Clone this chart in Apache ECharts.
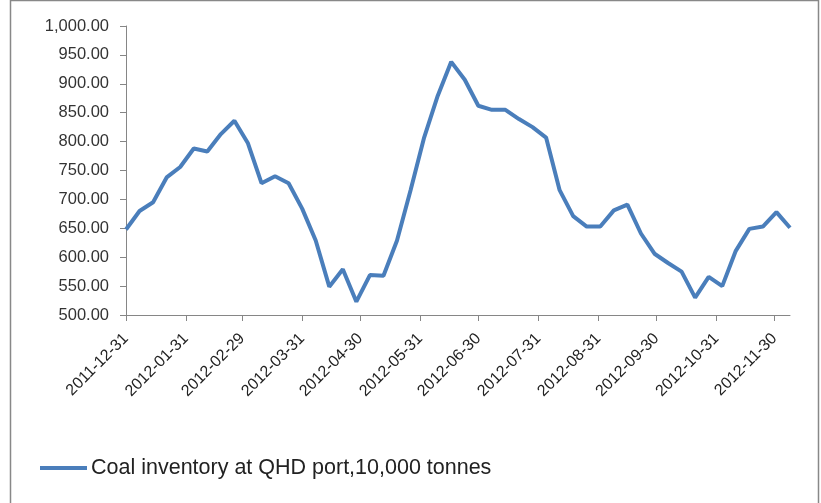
<!DOCTYPE html>
<html>
<head>
<meta charset="utf-8">
<script src="https://cdn.jsdelivr.net/npm/echarts@6/dist/echarts.min.js"></script>
<style>
html,body{margin:0;padding:0;background:#fff;}
#chart{width:821px;height:503px;}
</style>
</head>
<body>
<div id="chart"></div>
<script>
var dates = ['2011-12-31','2012-01-07','2012-01-14','2012-01-21','2012-01-28','2012-02-04','2012-02-11','2012-02-18','2012-02-25','2012-03-03',
'2012-03-10','2012-03-17','2012-03-24','2012-03-31','2012-04-07','2012-04-14','2012-04-21','2012-04-28','2012-05-05','2012-05-12',
'2012-05-19','2012-05-26','2012-06-02','2012-06-09','2012-06-16','2012-06-23','2012-06-30','2012-07-07','2012-07-14','2012-07-21',
'2012-07-28','2012-08-04','2012-08-11','2012-08-18','2012-08-25','2012-09-01','2012-09-08','2012-09-15','2012-09-22','2012-09-29',
'2012-10-06','2012-10-13','2012-10-20','2012-10-27','2012-11-03','2012-11-10','2012-11-17','2012-11-24','2012-12-01','2012-12-08'];
var inventory = [648,680,695,738,756,788,783,813,836,797,
728,740,728,684,629,549,579,523,569,568,
629,716,807,879,938,907,862,855,855,839,
825,807,716,671,653,653,681,691,641,606,
590,575,530,566,550,611,649,653,678,651];
var tickLabels = ['2011-12-31','2012-01-31','2012-02-29','2012-03-31','2012-04-30','2012-05-31','2012-06-30','2012-07-31','2012-08-31','2012-09-30','2012-10-31','2012-11-30'];
var seriesName = 'Coal inventory at QHD port,10,000 tonnes';

function ts(s){var p=s.split('-');return Date.UTC(+p[0],+p[1]-1,+p[2]);}
function pad(n){return (n<10?'0':'')+n;}
function fmt(v){var d=new Date(v);return d.getUTCFullYear()+'-'+pad(d.getUTCMonth()+1)+'-'+pad(d.getUTCDate());}

var tickValues = tickLabels.map(ts);
var chart = echarts.init(document.getElementById('chart'));
chart.setOption({
  animation:false,
  backgroundColor:'#fff',
  graphic:[{type:'rect',shape:{x:10.5,y:0.5,width:808,height:510},style:{fill:'none',stroke:'#888',lineWidth:1.5},silent:true}],
  grid:{left:126,right:31,top:26,bottom:188,containLabel:false},
  legend:{left:40,top:457,padding:0,itemWidth:47,itemHeight:14,itemGap:10,
    icon:'path://M0,5L47,5L47,9L0,9Z',
    textStyle:{fontFamily:'Liberation Sans',fontSize:21.5,color:'#222',padding:[0,0,0,-1]},
    data:[seriesName]},
  xAxis:{type:'value',min:ts(dates[0]),max:ts(dates[dates.length-1]),
    axisLine:{lineStyle:{color:'#868686',width:1}},
    axisTick:{show:true,length:6,lineStyle:{color:'#868686'},customValues:tickValues},
    axisLabel:{customValues:tickValues,rotate:45,margin:21,fontFamily:'Liberation Sans',fontSize:16,color:'#222',
      formatter:function(v){return fmt(v);}},
    splitLine:{show:false}},
  yAxis:{type:'value',min:500,max:1000,interval:50,
    axisLine:{show:true,lineStyle:{color:'#868686',width:1}},
    axisTick:{show:true,length:6,lineStyle:{color:'#868686'}},
    axisLabel:{margin:17,fontFamily:'Liberation Sans',fontSize:16.5,color:'#333',
      formatter:function(v){return v.toLocaleString('en-US',{minimumFractionDigits:2,maximumFractionDigits:2});}},
    splitLine:{show:false}},
  series:[{name:seriesName,type:'line',data:dates.map(function(d,i){return [ts(d),inventory[i]];}),
    showSymbol:false,symbol:'none',lineStyle:{color:'#4a7ebb',width:4},itemStyle:{color:'#4a7ebb'}}]
});
</script>
</body>
</html>
